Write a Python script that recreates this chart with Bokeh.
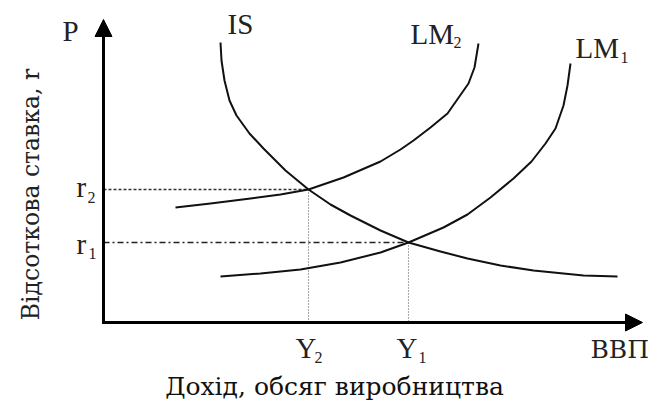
import math
from bokeh.plotting import figure
from bokeh.models import Range1d, Arrow, NormalHead, ColumnDataSource
from bokeh.core.properties import value
from bokeh.embed import file_html
from bokeh.resources import INLINE

# ---- data ----
IS_X = [11.7, 11.8, 12.1, 12.6, 13.3, 14.6, 16.0, 18.2, 20.5, 22.7, 24.7, 27.7, 30.5, 33.7, 36.4, 39.7, 43.0, 48.0, 51.4]
IS_R = [28.0, 26.2, 24.2, 22.2, 20.7, 18.9, 17.4, 15.2, 13.3, 11.8, 10.7, 9.2, 8.0, 7.1, 6.4, 5.7, 5.2, 4.7, 4.6]

LM2_X = [7.2, 10.7, 14.7, 17.7, 20.5, 24.0, 27.7, 29.7, 31.0, 32.7, 34.4, 36.5, 37.1, 37.5]
LM2_R = [11.5, 11.9, 12.4, 12.8, 13.3, 14.5, 16.1, 17.3, 18.2, 19.5, 20.9, 23.9, 25.5, 27.9]

LM1_X = [11.7, 15.7, 19.7, 23.7, 27.7, 30.5, 34.0, 36.4, 38.7, 41.0, 42.8, 44.2, 45.2, 46.0, 46.4, 46.7]
LM1_R = [4.6, 4.9, 5.3, 6.0, 7.0, 8.0, 9.5, 10.8, 12.5, 14.4, 16.1, 17.9, 19.4, 21.7, 23.7, 25.9]

EQ_Y = [20.5, 30.5]   # Y2, Y1
EQ_R = [13.3, 8.0]    # r2, r1

LABELS_MAIN = ["P", "IS", "LM", "LM", "r", "r", "Y", "Y"]
LABELS_SUB = ["2", "1", "2", "1", "2", "1"]
X_END_LABEL = "ВВП"
X_TITLE = "Дохід, обсяг виробництва"
Y_TITLE = "Відсоткова ставка, r"

# ---- layout ----
X_AXIS_END = 53.9
Y_AXIS_END = 30.3
LAT = value("'Liberation Serif'")
CYR = value("DejaVu Serif")

p = figure(width=652, height=403, output_backend="svg", toolbar_location=None,
           x_range=Range1d(-10.3, 54.9), y_range=Range1d(-8.1, 32.2),
           x_axis_location=None, y_axis_location=None,
           min_border=0, min_border_left=0, min_border_right=0,
           min_border_top=0, min_border_bottom=0)
p.outline_line_color = None
p.grid.visible = False
p.background_fill_color = "white"
p.border_fill_color = "white"

# guide lines
p.segment(x0=[0], y0=[EQ_R[0]], x1=[EQ_Y[0]], y1=[EQ_R[0]], line_color="#333333",
          line_width=1.3, line_dash="3 2")
p.segment(x0=[0], y0=[EQ_R[1]], x1=[EQ_Y[1]], y1=[EQ_R[1]], line_color="#222222",
          line_width=1.4, line_dash="6 3 2 3")
p.segment(x0=EQ_Y, y0=EQ_R, x1=EQ_Y, y1=[0, 0], line_color="#555555",
          line_width=1.1, line_dash="1 2")

# curves
for xs, ys in ((IS_X, IS_R), (LM2_X, LM2_R), (LM1_X, LM1_R)):
    p.line(xs, ys, line_color="#111111", line_width=2.0, line_join="round")

# axes with arrows
p.add_layout(Arrow(end=NormalHead(size=17, fill_color="black", line_color="black", line_width=1),
                   x_start=0, y_start=-0.15, x_end=0, y_end=Y_AXIS_END,
                   line_color="black", line_width=3))
p.add_layout(Arrow(end=NormalHead(size=17, fill_color="black", line_color="black", line_width=1),
                   x_start=-0.15, y_start=0, x_end=X_AXIS_END, y_end=0,
                   line_color="black", line_width=3))

# main labels
main_src = ColumnDataSource(dict(
    x=[-4.1, 12.4, 30.7, 47.2, -2.7, -2.7, 19.2, 29.3],
    y=[29.2, 29.9, 28.9, 27.5, 13.6, 7.9, -2.5, -2.5],
    text=LABELS_MAIN,
))
p.text(x="x", y="y", text="text", source=main_src, text_font=LAT,
       text_font_size=value("29px"), text_color="#222222",
       text_align="left", text_baseline="middle")

sub_src = ColumnDataSource(dict(
    x=[35.0, 51.7, -1.6, -1.5, 21.1, 31.5],
    y=[28.0, 26.5, 12.5, 6.9, -3.5, -3.5],
    text=LABELS_SUB,
))
p.text(x="x", y="y", text="text", source=sub_src, text_font=LAT,
       text_font_size=value("16px"), text_color="#222222",
       text_align="left", text_baseline="middle")

# "ВВП" at the end of the x axis
p.text(x=[48.7], y=[-2.65], text=[X_END_LABEL], text_font=CYR,
       text_font_size=value("25px"), text_color="#222222",
       text_align="left", text_baseline="middle")

# axis titles
p.text(x=[23.1], y=[-6.4], text=[X_TITLE], text_font=CYR,
       text_font_size=value("25px"), text_color="#111111",
       text_align="center", text_baseline="middle")
p.text(x=[-7.3], y=[12.8], text=[Y_TITLE], text_font=CYR,
       text_font_size=value("23.5px"), text_color="#222222",
       text_align="center", text_baseline="middle", angle=math.pi / 2)

open("out.html", "w").write(file_html(p, INLINE))
